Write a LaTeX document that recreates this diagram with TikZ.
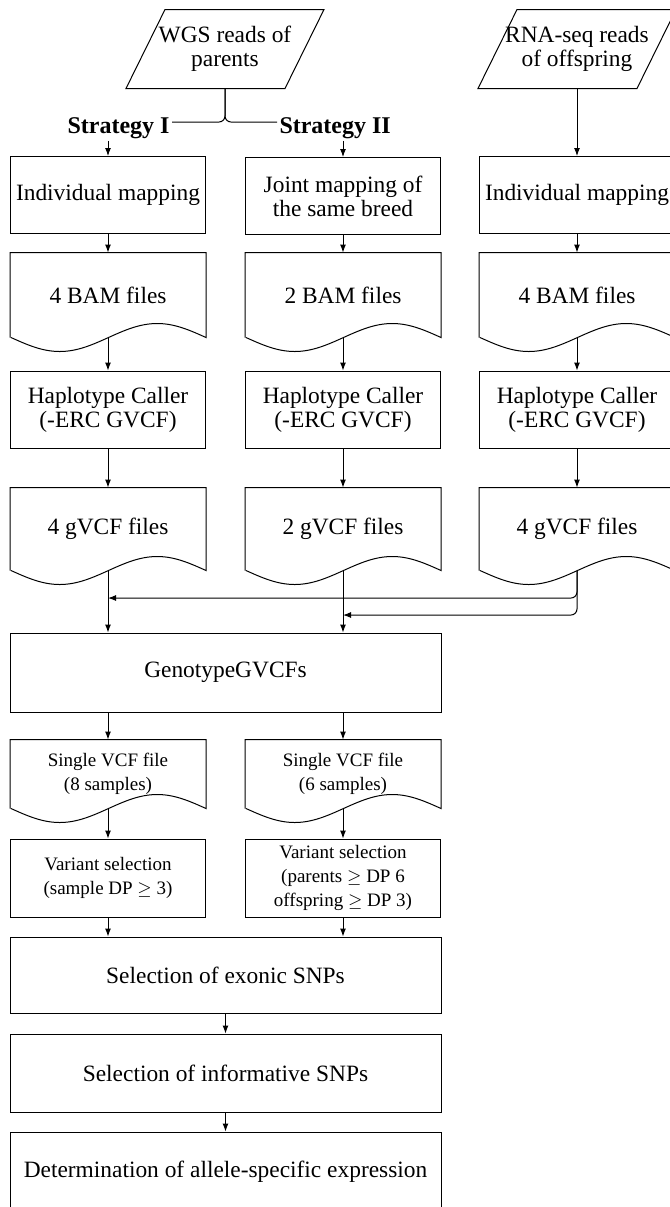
\documentclass[tikz,border=0pt]{standalone}
\usepackage{fontspec}
\setmainfont{Liberation Serif}
\usetikzlibrary{arrows.meta}

\begin{document}
\begin{tikzpicture}[x=0.5pt, y=-0.5pt, line width=0.5pt,
    every node/.style={align=center, inner sep=1pt, font=\fontsize{11.7}{12}\selectfont},
    box/.style={draw, minimum width=97.5pt, minimum height=#1},
    box/.default=38.5pt,
    wide/.style={draw, minimum width=215.5pt, minimum height=#1},
    wide/.default=39pt,
    doc/.style={minimum width=97.5pt, minimum height=#1},
    reads/.style={minimum width=79pt, minimum height=39pt},
    strat/.style={font=\fontsize{12}{14}\selectfont\bfseries},
    small/.style={font=\fontsize{9.5}{12}\selectfont},
    arr/.style={-{Latex[length=4pt,width=3pt]}}]
    \useasboundingbox (0,0) rectangle (670,1207);

    % inputs
    \node[reads] (in1) at (225,49) {WGS reads of\\parents};
    \node[reads] (in2) at (577,49) {RNA-seq reads\\of offspring};
    \node[strat, anchor=base east] (str1) at (172,133) {Strategy I};
    \node[strat, anchor=base west] (str2) at (277,133) {Strategy II};
    \coordinate (j) at (225,122);

    % three columns
    \node[box] (map1) at (108,195) {Individual mapping};
    \node[box] (map2) at (343,196) {Joint mapping of\\the same breed};
    \node[box] (map3) at (577,195) {Individual mapping};
    \node[doc=42pt] (bam1) at (108,295) {4 BAM files};
    \node[doc=42pt] (bam2) at (343,295) {2 BAM files};
    \node[doc=42pt] (bam3) at (577,295) {4 BAM files};
    \node[box] (hc1) at (108,409.5) {Haplotype Caller\\(-ERC GVCF)};
    \node[box] (hc2) at (343,409.5) {Haplotype Caller\\(-ERC GVCF)};
    \node[box] (hc3) at (577,409.5) {Haplotype Caller\\(-ERC GVCF)};
    \node[doc=41pt] (gv1) at (108,529) {4 gVCF files};
    \node[doc=41pt] (gv2) at (343,529) {2 gVCF files};
    \node[doc=41pt] (gv3) at (577,529) {4 gVCF files};
    \coordinate (m1) at (108,598);
    \coordinate (m2) at (343,615);

    % joint part
    \node[wide=39.5pt] (geno) at (225.5,672.5) {GenotypeGVCFs};
    \node[doc=34pt, small] (vcf1) at (108,774) {Single VCF file\\(8 samples)};
    \node[doc=34pt, small] (vcf2) at (343,774) {Single VCF file\\(6 samples)};
    \node[box=39pt, small] (var1) at (108,878) {Variant selection\\(sample DP $\geq$ 3)};
    \node[box=39pt, small] (var2) at (343,878) {Variant selection\\(parents $\geq$ DP 6\\offspring $\geq$ DP 3)};
    \node[wide=38pt] (exo) at (225.5,975) {Selection of exonic SNPs};
    \node[wide] (inf) at (225.5,1073) {Selection of informative SNPs};
    \node[wide=40pt] (det) at (225.5,1172) {Determination of allele-specific expression};

    % outlines of the input and document shapes
    \foreach \n in {in1,in2}
        \draw ([xshift=-9.75pt]\n.south west) -- ([xshift=9.75pt]\n.north west)
            -- ([xshift=9.75pt]\n.north east) -- ([xshift=-9.75pt]\n.south east) -- cycle;
    \foreach \n in {bam1,bam2,bam3,gv1,gv2,gv3,vcf1,vcf2}
        \draw (\n.south west) -- (\n.north west) -- (\n.north east) -- (\n.south east)
            sin ++(-48.75,-14) cos ++(-48.75,14) sin ++(-48.75,14) cos ++(-48.75,-14);

    % connectors
    \draw[rounded corners=3pt] (in1.south) -- (j) -- (j -| str1.east);
    \draw[rounded corners=3pt] (in1.south) -- (j) -- (j -| str2.west);
    \draw[arr] (map1 |- str1.south) -- (map1);
    \draw[arr] (map2 |- str2.south) -- (map2);
    \draw[arr] (in2) -- (map3);
    \foreach \c in {1,2,3} {
        \draw[arr] (map\c) -- (bam\c);
        \draw[arr] (bam\c.south) -- (hc\c);
        \draw[arr] (hc\c) -- (gv\c);
    }
    \draw[arr, rounded corners=3pt] (gv3.south) |- (m1);
    \draw[arr, rounded corners=3pt] (gv3.south) |- (m2);
    \draw[arr] (gv1.south) -- (gv1.south |- geno.north);
    \draw[arr] (gv2.south) -- (gv2.south |- geno.north);
    \draw[arr] (vcf1.north |- geno.south) -- (vcf1);
    \draw[arr] (vcf2.north |- geno.south) -- (vcf2);
    \draw[arr] (vcf1.south) -- (var1);
    \draw[arr] (vcf2.south) -- (var2);
    \draw[arr] (var1) -- (var1 |- exo.north);
    \draw[arr] (var2) -- (var2 |- exo.north);
    \draw[arr] (exo) -- (inf);
    \draw[arr] (inf) -- (det);
\end{tikzpicture}
\end{document}
